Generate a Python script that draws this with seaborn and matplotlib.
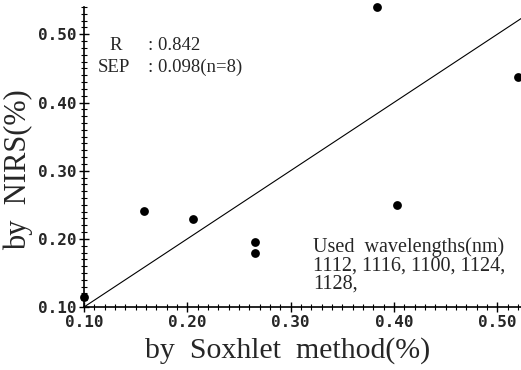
import matplotlib
matplotlib.use("Agg")
import matplotlib.pyplot as plt
import seaborn as sns
import pandas as pd
from matplotlib.ticker import MultipleLocator, FixedLocator

# data
soxhlet = [0.100, 0.158, 0.206, 0.266, 0.266, 0.384, 0.403, 0.520]
nirs = [0.115, 0.241, 0.229, 0.196, 0.179, 0.540, 0.249, 0.438]
ref_line_x = [0.10, 0.53]
ref_line_y = [0.10, 0.53]
x_ticks = [0.10, 0.20, 0.30, 0.40, 0.50]
y_ticks = [0.10, 0.20, 0.30, 0.40, 0.50]
x_tick_labels = ["0.10", "0.20", "0.30", "0.40", "0.50"]
y_tick_labels = ["0.10", "0.20", "0.30", "0.40", "0.50"]
stat_names = ["R", "SEP"]
stat_values = [": 0.842", ": 0.098(n=8)"]
note_lines = ["Used  wavelengths(nm)", "1112, 1116, 1100, 1124,", "1128,"]

sns.set_style("ticks")
plt.rcParams['font.family'] = ['Liberation Serif', 'DejaVu Serif']

df = pd.DataFrame({"x": soxhlet, "y": nirs})
line_df = pd.DataFrame({"x": ref_line_x, "y": ref_line_y})

fig = plt.figure(figsize=(5.21, 3.70), dpi=100)
ax = fig.add_axes([0.161, 0.170, 0.839, 0.811])

sns.lineplot(data=line_df, x="x", y="y", ax=ax, color="black", linewidth=0.8)
sns.scatterplot(data=df, x="x", y="y", ax=ax, color="black", s=40,
                edgecolor="black", linewidth=0, clip_on=False, zorder=5)

ax.set_xlim(0.10, 0.523)
ax.set_ylim(0.10, 0.540)

ax.xaxis.set_major_locator(FixedLocator(x_ticks))
ax.yaxis.set_major_locator(FixedLocator(y_ticks))
ax.xaxis.set_minor_locator(MultipleLocator(0.01))
ax.yaxis.set_minor_locator(MultipleLocator(0.01))
ax.set_xticklabels(x_tick_labels, family="DejaVu Sans Mono", fontweight="bold", fontsize=11.5)
ax.set_yticklabels(y_tick_labels, family="DejaVu Sans Mono", fontweight="bold", fontsize=11.5)

ax.tick_params(which="major", direction="inout", length=7, width=1, color="black", pad=2)
ax.tick_params(which="minor", direction="inout", length=4, width=0.8, color="black")

sns.despine(ax=ax, top=True, right=True)
for sp in ["left", "bottom"]:
    ax.spines[sp].set_linewidth(1.2)
    ax.spines[sp].set_color("black")

ax.set_xlabel("by  Soxhlet  method(%)", fontsize=21.5)
ax.set_ylabel("by  NIRS(%)", fontsize=22)
ax.xaxis.set_label_coords(0.467, -0.100)
ax.yaxis.set_label_coords(-0.117, 0.457)

for name, val, yf in zip(stat_names, stat_values, [0.873, 0.800]):
    xn = 0.0595 if name == "R" else 0.032
    ax.text(xn, yf, name, transform=ax.transAxes, fontsize=13.5, va="center", ha="left")
    ax.text(0.146, yf, val, transform=ax.transAxes, fontsize=13.5, va="center", ha="left")

for line, yf in zip(note_lines, [0.200, 0.137, 0.077]):
    ax.text(0.524, yf, line, transform=ax.transAxes, fontsize=14.5, va="center", ha="left")

fig.savefig("out.png", dpi=100)
